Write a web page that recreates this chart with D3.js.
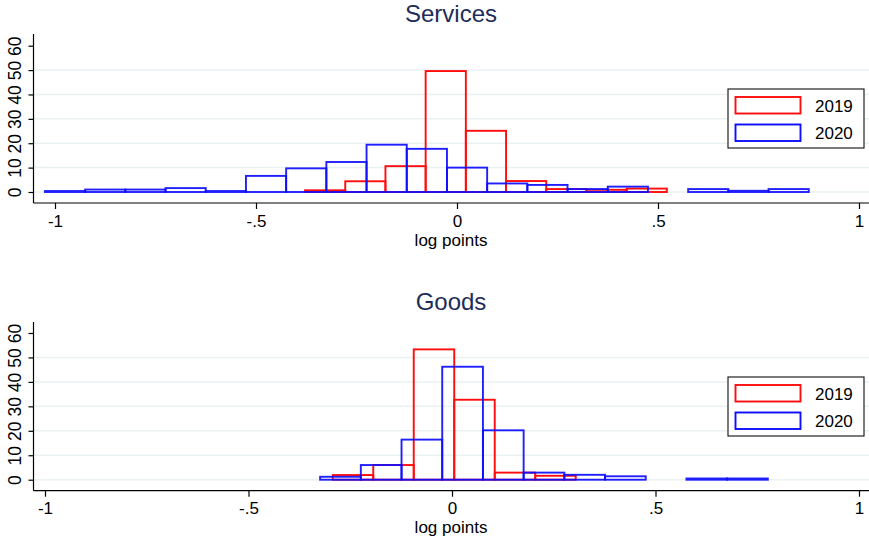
<!DOCTYPE html>
<html>
<head>
<meta charset="utf-8">
<style>
body { margin: 0; background: #fff; }
text { font-family: "Liberation Sans", Arial, sans-serif; fill: #000; }
.title { font-size: 24px; fill: #1e2c5a; }
.grid line { stroke: #eaf1f3; stroke-width: 1.5px; }
.axis path, .axis line { stroke: #000; stroke-width: 1.2px; }
.axis text { font-size: 17px; }
</style>
</head>
<body>
<script src="https://d3js.org/d3.v7.min.js"></script>
<script>

// histogram heights (percent), bins of width ~0.1 log points
var binWidth = 0.1;

var services2019Start = -0.378;
var services2019 = [0.7, 4.4, 10.6, 49.6, 25.1, 4.5, 1.2, 0.9, 1.4];

var services2020Start = -1.025;
var services2020 = [0.4, 1.0, 1.0, 1.6, 0.4, 6.6, 9.7, 12.3, 19.4, 17.7, 10.0, 3.5, 2.9, 1.2, 2.2, 0, 1.2, 0.5, 1.2];

var goods2019Start = -0.293;
var goods2019Width = 0.0995;
var goods2019 = [1.9, 6.0, 53.3, 32.7, 2.9, 1.6];

var goods2020Start = -0.324;
var goods2020 = [1.2, 6.0, 16.4, 46.2, 20.2, 2.9, 2.0, 1.4, 0, 0.5, 0.5];

var xTicks = [-1, -0.5, 0, 0.5, 1];
var yTicks = [0, 10, 20, 30, 40, 50, 60];
var gridTicks = [0, 10, 20, 30, 40, 50];
var years = ["2019", "2020"];
var colors = ["#ff0d0d", "#0d0dff"];

var width = 869, height = 540;

var svg = d3.select("body").append("svg")
    .attr("width", width)
    .attr("height", height);

var panels = [
  { title: "Services", titleY: 22,
    x0: 55, x1: 859, yZero: 192, ySixty: 45.7, axisTop: 34, axisBottom: 203,
    tickLabelY: 226.7, xlabelY: 245.7, legendTop: 89,
    series: [
      { start: services2019Start, width: binWidth, values: services2019 },
      { start: services2020Start, width: binWidth, values: services2020 }
    ] },
  { title: "Goods", titleY: 310,
    x0: 45, x1: 859, yZero: 479.7, ySixty: 333, axisTop: 322, axisBottom: 490.7,
    tickLabelY: 514, xlabelY: 533, legendTop: 377,
    series: [
      { start: goods2019Start, width: goods2019Width, values: goods2019 },
      { start: goods2020Start, width: binWidth, values: goods2020 }
    ] }
];

var axisLeftX = 33.5;

panels.forEach(function(p) {
  var g = svg.append("g");

  var x = d3.scaleLinear().domain([-1, 1]).range([p.x0, p.x1]);
  var y = d3.scaleLinear().domain([0, 60]).range([p.yZero, p.ySixty]);

  // gridlines
  g.append("g").attr("class", "grid")
    .selectAll("line")
    .data(gridTicks)
    .enter().append("line")
      .attr("x1", axisLeftX)
      .attr("x2", width)
      .attr("y1", function(d) { return y(d); })
      .attr("y2", function(d) { return y(d); });

  // bars
  p.series.forEach(function(s, i) {
    var bins = s.values.map(function(v, k) {
      return { x0: s.start + k * s.width, x1: s.start + (k + 1) * s.width, h: v };
    }).filter(function(b) { return b.h > 0; });

    g.append("g")
      .selectAll("rect")
      .data(bins)
      .enter().append("rect")
        .attr("x", function(d) { return x(d.x0); })
        .attr("y", function(d) { return y(d.h); })
        .attr("width", function(d) { return x(d.x1) - x(d.x0); })
        .attr("height", function(d) { return y(0) - y(d.h); })
        .attr("fill", "none")
        .attr("stroke", colors[i])
        .attr("stroke-width", 1.9)
        .attr("opacity", i == 1 ? 0.92 : 1);
  });

  // x axis
  var xAxis = g.append("g").attr("class", "axis")
    .attr("transform", "translate(0," + p.axisBottom + ")")
    .call(d3.axisBottom(x).tickValues(xTicks).tickSize(6).tickSizeOuter(0)
      .tickFormat(function(d) { return d == 0 ? "0" : String(d).replace("0.", "."); }));
  xAxis.select(".domain").remove();
  xAxis.selectAll("text").attr("dy", null).attr("y", p.tickLabelY - p.axisBottom);
  xAxis.append("line")
    .attr("x1", axisLeftX).attr("x2", width)
    .attr("y1", 0).attr("y2", 0);

  // y axis
  var yAxis = g.append("g").attr("class", "axis")
    .attr("transform", "translate(" + axisLeftX + ",0)")
    .call(d3.axisLeft(y).tickValues(yTicks).tickSize(5).tickSizeOuter(0));
  yAxis.select(".domain").remove();
  yAxis.append("line")
    .attr("x1", 0).attr("x2", 0)
    .attr("y1", p.axisTop).attr("y2", p.axisBottom);
  yAxis.selectAll(".tick text")
    .attr("x", null).attr("dy", null)
    .attr("text-anchor", "middle")
    .style("font-size", "17.5px")
    .attr("transform", "translate(-13,0) rotate(-90)");

  // title and x label
  g.append("text").attr("class", "title")
    .attr("x", 451).attr("y", p.titleY)
    .attr("text-anchor", "middle")
    .text(p.title);
  g.append("text")
    .attr("x", 451).attr("y", p.xlabelY)
    .attr("text-anchor", "middle")
    .style("font-size", "17px")
    .text("log points");

  // legend
  var lg = g.append("g").attr("transform", "translate(728," + p.legendTop + ")");
  lg.append("rect")
    .attr("width", 136).attr("height", 59)
    .attr("fill", "#fff").attr("stroke", "#222").attr("stroke-width", 1.2);
  years.forEach(function(yr, i) {
    lg.append("rect")
      .attr("x", 7.5).attr("y", 8 + i * 27.5)
      .attr("width", 65).attr("height", 16.5)
      .attr("fill", "none").attr("stroke", colors[i]).attr("stroke-width", 1.9);
    lg.append("text")
      .attr("x", 87).attr("y", 22.5 + i * 27.5)
      .style("font-size", "17px")
      .text(yr);
  });
});

</script>
</body>
</html>
